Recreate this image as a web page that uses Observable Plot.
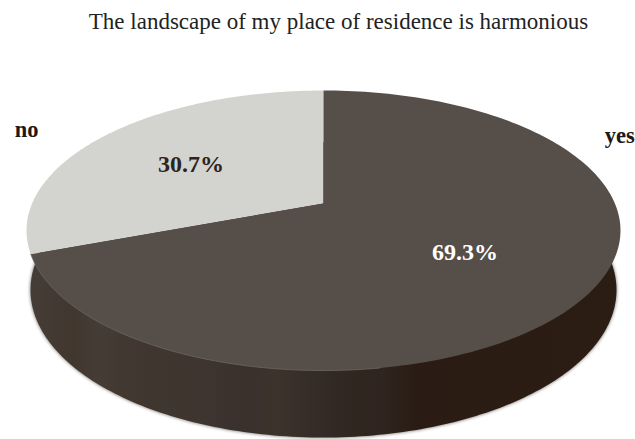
<!DOCTYPE html>
<html>
<head>
<meta charset="utf-8">
<script src="https://cdn.jsdelivr.net/npm/d3@7"></script>
<script src="https://cdn.jsdelivr.net/npm/@observablehq/plot@0.6"></script>
<style>
html,body{margin:0;padding:0;background:#fff;overflow:hidden}
svg{display:block}
</style>
</head>
<body>
<div id="chart"></div>
<script>
const titleText = "The landscape of my place of residence is harmonious";
const categories = ["yes", "no"];
const values = [69.3, 30.7];
const sliceColors = ["#564e49", "#d3d4d0"];
const labelColors = ["#ffffff", "#2b2522"];
const catLabelX = [1.017, -1.019];
const catLabelY = [0.505, 0.545];
const wallStops = [[0,"#463d38"],[0.08,"#41372f"],[0.12,"#453c36"],[0.2,"#40352f"],[0.3,"#3f3530"],[0.36,"#3a302c"],[0.42,"#3d332c"],[0.5,"#342a26"],[0.56,"#30261f"],[0.6,"#2f241f"],[0.66,"#2a1c14"],[1,"#2c1d13"]];

// Perspective of the tilted disc
const tilt = 0.193;
const project = (u, v) => ({x: u / (1 + tilt * v), y: v / (1 + tilt * v)});
const lower = p => ({x: p.x * 0.9866, y: p.y * 1.0537 - 0.4303});

// Angles are clockwise from 12 o'clock; "yes" runs clockwise, "no" closes the circle.
const total = d3.sum(values);
const yesEnd = values[0] / total * 2 * Math.PI;
const ringPoint = (a, r = 1) => project(r * Math.sin(a), r * Math.cos(a));
const arc = (a0, a1, n = 180) => d3.range(n + 1).map(i => ringPoint(a0 + (a1 - a0) * i / n));
const center = project(0, 0);

const slices = [
  [center, ...arc(0, yesEnd)],
  [center, ...arc(yesEnd, 2 * Math.PI)]
];
const bottomRing = arc(0, 2 * Math.PI, 360).map(lower);
const rim = arc(Math.PI * 0.95, yesEnd);

const mids = [values[0] / total * Math.PI, yesEnd + values[1] / total * Math.PI];
const pctPoints = mids.map((a, i) => ({...ringPoint(a, 0.57), label: values[i].toFixed(1) + "%", color: labelColors[i]}));
const catPoints = categories.map((c, i) => ({x: catLabelX[i], y: catLabelY[i], label: c}));

const defs = () => {
  const d = d3.create("svg:defs");
  const g = d.append("linearGradient").attr("id", "wall")
    .attr("gradientUnits", "userSpaceOnUse")
    .attr("x1", 26).attr("x2", 620).attr("y1", 0).attr("y2", 0);
  wallStops.forEach(([o, c]) => g.append("stop").attr("offset", o).attr("stop-color", c));
  return d.node();
};

const plot = Plot.plot({
  width: 635, height: 439,
  margin: 0,
  style: {background: "#fff"},
  x: {axis: null, domain: [-1, 1], range: [31.6, 614.4]},
  y: {axis: null, domain: [-1, 1], range: [337.8, 68.2]},
  marks: [
    defs,
    Plot.line(bottomRing, {x: "x", y: "y", fill: "#9a9895", stroke: "#9a9895", strokeWidth: 1.5, imageFilter: "blur(1.5px)"}),
    Plot.line(bottomRing, {x: "x", y: "y", fill: "url(#wall)", stroke: "none"}),
    Plot.line(slices[1], {x: "x", y: "y", fill: sliceColors[1], stroke: "none"}),
    Plot.line(slices[0], {x: "x", y: "y", fill: sliceColors[0], stroke: "none"}),
    Plot.line(rim, {x: "x", y: "y", stroke: "#6d6661", strokeWidth: 1, strokeOpacity: 0.8}),
    Plot.text(pctPoints, {x: "x", y: "y", text: "label", fill: "color", dx: -4, dy: 2, fontFamily: "Liberation Serif", fontWeight: "bold", fontSize: 24}),
    Plot.text(catPoints, {x: "x", y: "y", text: "label", fill: "#1d1917", fontFamily: "Liberation Serif", fontWeight: "bold", fontSize: 22.5}),
    Plot.text([titleText], {frameAnchor: "top", dy: 12, dx: 20.5, fill: "#222", fontFamily: "Liberation Serif", fontSize: 23, lineAnchor: "top"})
  ]
});
document.getElementById("chart").append(plot);
</script>
</body>
</html>
